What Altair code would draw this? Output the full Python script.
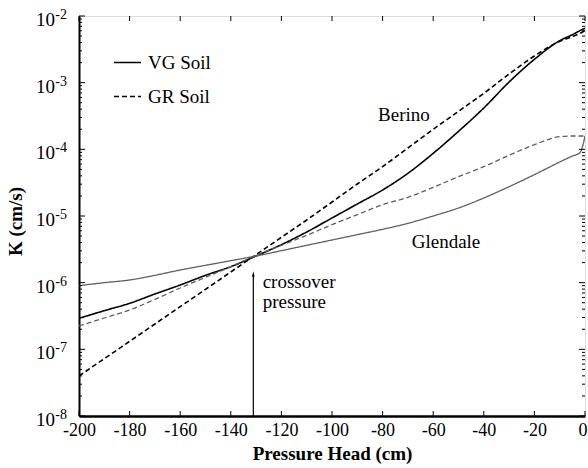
import altair as alt
import pandas as pd

# ---- data -------------------------------------------------------------------
pressure = [-200, -190, -180, -170, -160, -150, -140, -130, -120, -110, -100,
            -90, -80, -70, -60, -50, -40, -30, -20, -10, -5, -2, -1, 0]

log10_k_berino_vg = [-6.535, -6.42, -6.31, -6.17, -6.035, -5.89, -5.76, -5.60,
                     -5.43, -5.24, -5.03, -4.82, -4.61, -4.36, -4.06, -3.73,
                     -3.38, -2.99, -2.65, -2.37, -2.28, -2.22, -2.20, -2.185]
log10_k_berino_gr = [-7.40, -7.14, -6.88, -6.62, -6.36, -6.10, -5.84, -5.58,
                     -5.32, -5.06, -4.79, -4.52, -4.26, -3.98, -3.70, -3.43,
                     -3.16, -2.87, -2.60, -2.38, -2.31, -2.26, -2.24, -2.22]
log10_k_glendale_vg = [-6.045, -6.00, -5.96, -5.89, -5.81, -5.74, -5.67, -5.60,
                       -5.52, -5.44, -5.36, -5.28, -5.20, -5.11, -5.00, -4.88,
                       -4.73, -4.56, -4.38, -4.19, -4.10, -4.05, -3.96, -3.80]
log10_k_glendale_gr = [-6.65, -6.53, -6.41, -6.25, -6.08, -5.92, -5.76, -5.59,
                       -5.44, -5.29, -5.13, -4.98, -4.83, -4.72, -4.57, -4.41,
                       -4.26, -4.09, -3.93, -3.81, -3.80, -3.80, -3.80, -3.80]

series = [
    ("Berino", "VG Soil", log10_k_berino_vg),
    ("Berino", "GR Soil", log10_k_berino_gr),
    ("Glendale", "VG Soil", log10_k_glendale_vg),
    ("Glendale", "GR Soil", log10_k_glendale_gr),
]

x_ticks = [-200, -180, -160, -140, -120, -100, -80, -60, -40, -20, 0]
decades = [1e-8, 1e-7, 1e-6, 1e-5, 1e-4, 1e-3, 1e-2]
decade_exponents = ["-8", "-7", "-6", "-5", "-4", "-3", "-2"]
minor_mult = [2, 3, 4, 5, 6, 7, 8, 9]

annot_text = ["Berino", "Glendale", "crossover", "pressure"]
annot_pressure = [-81.8, -68.5, -127.4, -127.4]
annot_k = [3.27e-4, 4.1e-6, 1.03e-6, 5.2e-7]

crossover_pressure = [-131.1]
arrow_base_k = [1e-8]
arrow_tip_k = [1.32e-6]

# ---- tables -----------------------------------------------------------------
rows = []
for soil, model, vals in series:
    for p, lk in zip(pressure, vals):
        rows.append({"pressure": p, "K": 10 ** lk, "soil": soil, "model": model})
df = pd.DataFrame(rows)

xt = pd.DataFrame({"pressure": x_ticks})
major = pd.DataFrame({"K": decades, "exp": decade_exponents})
minor = pd.DataFrame({"K": [m * d for d in decades[:-1] for m in minor_mult]})
annot = pd.DataFrame({"pressure": annot_pressure, "K": annot_k, "label": annot_text})
arrow = pd.DataFrame({"pressure": crossover_pressure, "K": arrow_base_k, "K2": arrow_tip_k})

FONT = "Liberation Serif"
W, H = 506, 400

xscale = alt.Scale(domain=[-200, 0], nice=False, zero=False)
yscale = alt.Scale(type="log", domain=[1e-8, 1e-2], nice=False)

xaxis = alt.Axis(values=x_ticks, ticks=False, grid=False, domain=True,
                 domainColor="black", domainWidth=2.5,
                 labelFont=FONT, labelFontSize=18, labelColor="black",
                 labelPadding=5, labelFlush=False,
                 labelExpr="datum.value + ''",
                 labelAlign={"condition": {"test": "datum.value == 0", "value": "right"},
                             "value": "center"},
                 labelOffset={"condition": {"test": "datum.value == 0", "value": 2},
                              "value": 0},
                 title="Pressure Head (cm)", titleFont=FONT,
                 titleFontSize=19, titleFontWeight="bold",
                 titleColor="black", titleY=37, titleBaseline="middle")
yaxis = alt.Axis(labels=False, ticks=False, grid=False, domain=True,
                 domainColor="black", domainWidth=2,
                 title="K (cm/s)", titleFont=FONT, titleFontSize=19,
                 titleFontWeight="bold", titleColor="black",
                 titleX=-64, titleY=205, titleBaseline="middle")

X = lambda f="pressure:Q": alt.X(f, scale=xscale, axis=xaxis, title="Pressure Head (cm)")
Y = lambda f="K:Q": alt.Y(f, scale=yscale, axis=yaxis, title="K (cm/s)")

lines = alt.Chart(df).mark_line(clip=True, interpolate="monotone").encode(
    x=X(), y=Y(),
    color=alt.Color("soil:N", scale=alt.Scale(domain=["Berino", "Glendale"],
                                              range=["black", "#5f5f5f"]),
                    legend=None),
    strokeWidth=alt.StrokeWidth("soil:N", scale=alt.Scale(domain=["Berino", "Glendale"],
                                                          range=[1.6, 1.3]),
                                legend=None),
    strokeDash=alt.StrokeDash("model:N",
                              scale=alt.Scale(domain=["VG Soil", "GR Soil"],
                                              range=[[1, 0], [5, 3]]),
                              legend=alt.Legend(title=None, orient="none",
                                                legendX=34, legendY=32,
                                                symbolType="stroke",
                                                symbolSize=729,
                                                symbolStrokeWidth=1.5,
                                                symbolStrokeColor="black",
                                                labelFont=FONT, labelFontSize=19,
                                                labelColor="black", labelOffset=6,
                                                rowPadding=9, padding=0)),
    detail="soil:N",
    order="pressure:Q",
)

def rule_layer(data, enc):
    return alt.Chart(data).mark_rule(color="black", strokeWidth=1).encode(**enc)

xb = rule_layer(xt, dict(x=X(), y=alt.value(H), y2=alt.value(H - 5)))
xtp = rule_layer(xt, dict(x=X(), y=alt.value(0), y2=alt.value(5)))
yl = rule_layer(major, dict(y=Y(), x=alt.value(0), x2=alt.value(6)))
yr = rule_layer(major, dict(y=Y(), x=alt.value(W), x2=alt.value(W - 6)))
yml = rule_layer(minor, dict(y=Y(), x=alt.value(0), x2=alt.value(3)))
ymr = rule_layer(minor, dict(y=Y(), x=alt.value(W), x2=alt.value(W - 3)))

ten = alt.Chart(major).mark_text(align="right", baseline="middle", font=FONT,
                                 fontSize=19, color="black", dy=4).encode(
    y=Y(), x=alt.value(-24), text=alt.value("10"))
expo = alt.Chart(major).mark_text(align="right", baseline="middle", font=FONT,
                                  fontSize=14, color="black", dy=-1).encode(
    y=Y(), x=alt.value(-12), text="exp:N")

labels = alt.Chart(annot).mark_text(align="left", baseline="middle", font=FONT,
                                    fontSize=19, color="black").encode(
    x=X(), y=Y(), text="label:N")

arrow_line = alt.Chart(arrow).mark_rule(color="black", strokeWidth=1.2).encode(
    x=X(), y=Y(), y2="K2:Q")
arrow_head = alt.Chart(arrow).mark_point(
    shape="M0,-1L0.4,0.6L-0.4,0.6Z", filled=True, color="black", size=45,
    opacity=1).encode(x=X(), y=Y("K2:Q"))

chart = alt.layer(lines, xb, xtp, yl, yr, yml, ymr, ten, expo, labels,
                  arrow_line, arrow_head).properties(
    width=W, height=H,
    autosize=alt.AutoSizeParams(type="none"),
    padding={"left": 79, "top": 16, "right": 3, "bottom": 52},
).configure_view(stroke="black", strokeWidth=1.5).configure(background="white")

chart.save("out.html", embed_options={"renderer": "svg", "actions": False})
